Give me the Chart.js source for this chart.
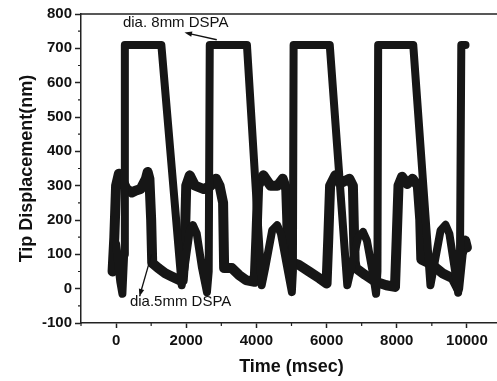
<!DOCTYPE html>
<html>
<head>
<meta charset="utf-8">
<script src="https://cdn.jsdelivr.net/npm/chart.js@4.4.1/dist/chart.umd.min.js"></script>
<style>
  html, body { margin: 0; padding: 0; background: #fff; overflow: hidden; }
  #wrap { width: 497px; height: 381px; overflow: hidden; }
</style>
</head>
<body>
<div id="wrap"><canvas id="chart" width="510" height="381"></canvas></div>
<script>
// dia. 8mm DSPA (circles)
const time8 = [0, 120, 180, 230, 250, 1290, 1870, 1950, 2100, 2190, 2300, 2450, 2590, 2640, 2670,
  3730, 4150, 4250, 4450, 4590, 4700, 4900, 5010, 5040, 5060,
  6090, 6590, 6700, 6900, 7040, 7150, 7330, 7410, 7450, 7470,
  8470, 8960, 9050, 9250, 9390, 9500, 9680, 9750, 9800, 9840, 9960];
const disp8 = [130, 20, -15, 100, 710, 710, 10, 60, 170, 185, 160, 60, -10, 50, 710,
  710, 10, 60, 170, 185, 160, 50, -10, 50, 710,
  710, 10, 60, 150, 165, 140, 40, -15, 50, 710,
  710, 10, 60, 170, 186, 160, 40, -12, 50, 710, 710];

// dia.5mm DSPA (triangles)
const time5 = [-100, -50, 0, 80, 150, 300, 450, 550, 700, 850, 900, 950, 1000, 1030, 1200, 1400, 1600, 1800, 1900, 1950,
  2000, 2100, 2250, 2500, 2700, 2850, 2950, 3050, 3080, 3300, 3500, 3700, 3950, 4000,
  4050, 4200, 4400, 4600, 4750, 4850, 4880, 4900, 5200, 5500, 5800, 6000, 6050,
  6100, 6250, 6450, 6650, 6750, 6800, 6830, 7100, 7400, 7700, 7950, 8000,
  8050, 8150, 8300, 8450, 8600, 8670, 8700, 9000, 9300, 9600, 9750, 9850, 9950, 10000];
const disp5 = [50, 150, 300, 335, 320, 290, 280, 285, 290, 320, 340, 320, 200, 75, 60, 45, 35, 25, 25, 100,
  300, 330, 300, 290, 300, 320, 300, 250, 60, 60, 40, 25, 20, 150,
  300, 330, 300, 300, 320, 290, 200, 80, 70, 50, 30, 15, 150,
  300, 330, 310, 320, 300, 80, 60, 40, 20, 10, 5, 150,
  300, 326, 305, 320, 300, 200, 85, 70, 45, 30, 0, 100, 140, 120];

const xTicks = [0, 2000, 4000, 6000, 8000, 10000];
const xMinor = [-1000, 1000, 3000, 5000, 7000, 9000];
const yTicks = [-100, 0, 100, 200, 300, 400, 500, 600, 700, 800];
const yMinor = [-50, 50, 150, 250, 350, 450, 550, 650, 750];

// callout labels with arrows (data coordinates)
const notes = [
  { text: 'dia. 8mm DSPA', at: [1700, 775], from: [2870, 725], to: [1950, 746] },
  { text: 'dia.5mm DSPA', at: [1840, -39], from: [1010, 99], to: [666, -23] }
];

const ink = '#161616';
const axisColor = '#222';
const fontFamily = '"Liberation Sans", Arial, Helvetica, sans-serif';

function toPoints(xs, ys) {
  return xs.map((v, i) => ({ x: v, y: ys[i] }));
}

const extras = {
  id: 'extras',
  afterDraw(chart) {
    const { ctx, chartArea, scales: { x, y } } = chart;
    ctx.save();
    ctx.strokeStyle = axisColor;
    ctx.lineWidth = 1.5;
    // top + right frame
    ctx.beginPath();
    ctx.moveTo(chartArea.left, chartArea.top);
    ctx.lineTo(chartArea.right, chartArea.top);
    ctx.lineTo(chartArea.right, chartArea.bottom);
    ctx.stroke();
    // minor ticks
    ctx.lineWidth = 1.2;
    ctx.beginPath();
    xMinor.forEach(v => {
      const px = x.getPixelForValue(v);
      ctx.moveTo(px, chartArea.bottom);
      ctx.lineTo(px, chartArea.bottom + 3);
    });
    yMinor.forEach(v => {
      const py = y.getPixelForValue(v);
      ctx.moveTo(chartArea.left, py);
      ctx.lineTo(chartArea.left - 3, py);
    });
    ctx.stroke();

    // callouts
    ctx.fillStyle = '#111';
    ctx.strokeStyle = '#111';
    ctx.font = '15px ' + fontFamily;
    ctx.textAlign = 'center';
    ctx.textBaseline = 'middle';
    notes.forEach(n => {
      ctx.fillText(n.text, x.getPixelForValue(n.at[0]), y.getPixelForValue(n.at[1]));
      const x1 = x.getPixelForValue(n.from[0]), y1 = y.getPixelForValue(n.from[1]);
      const x2 = x.getPixelForValue(n.to[0]), y2 = y.getPixelForValue(n.to[1]);
      const ang = Math.atan2(y2 - y1, x2 - x1);
      ctx.lineWidth = 1.3;
      ctx.beginPath();
      ctx.moveTo(x1, y1);
      ctx.lineTo(x2 - 5 * Math.cos(ang), y2 - 5 * Math.sin(ang));
      ctx.stroke();
      ctx.beginPath();
      ctx.moveTo(x2, y2);
      ctx.lineTo(x2 - 8 * Math.cos(ang - 0.35), y2 - 8 * Math.sin(ang - 0.35));
      ctx.lineTo(x2 - 8 * Math.cos(ang + 0.35), y2 - 8 * Math.sin(ang + 0.35));
      ctx.closePath();
      ctx.fill();
    });
    ctx.restore();
  }
};

const tickFont = { family: fontFamily, size: 15, weight: 'bold' };
const titleFont = { family: fontFamily, size: 18, weight: 'bold' };

new Chart(document.getElementById('chart').getContext('2d'), {
  type: 'scatter',
  data: {
    datasets: [
      {
        label: 'dia. 8mm DSPA',
        data: toPoints(time8, disp8),
        showLine: true,
        borderColor: ink,
        borderWidth: 8,
        borderJoinStyle: 'round',
        borderCapStyle: 'round',
        pointRadius: 0
      },
      {
        label: 'dia.5mm DSPA',
        data: toPoints(time5, disp5),
        showLine: true,
        borderColor: ink,
        borderWidth: 10,
        borderJoinStyle: 'round',
        borderCapStyle: 'round',
        pointRadius: 0
      }
    ]
  },
  options: {
    responsive: false,
    animation: false,
    layout: { padding: { top: 14, right: 8, left: 0, bottom: 0 } },
    plugins: {
      legend: { display: false },
      tooltip: { enabled: false }
    },
    scales: {
      x: {
        type: 'linear',
        min: -1000,
        max: 11000,
        afterBuildTicks: s => { s.ticks = xTicks.map(v => ({ value: v })); },
        afterFit: s => { s.height = 58; },
        grid: { drawOnChartArea: false, tickLength: 5, tickColor: axisColor, tickWidth: 1.5 },
        border: { color: axisColor, width: 1.5 },
        ticks: { font: tickFont, color: '#111', padding: 4, maxRotation: 0, autoSkip: false,
          callback: v => String(v) },
        title: { display: true, text: 'Time (msec)', font: titleFont, color: '#111', padding: { bottom: 3 } }
      },
      y: {
        min: -100,
        max: 800,
        afterBuildTicks: s => { s.ticks = yTicks.map(v => ({ value: v })); },
        afterFit: s => { s.width = 81; },
        grid: { drawOnChartArea: false, tickLength: 6, tickColor: axisColor, tickWidth: 1.5 },
        border: { color: axisColor, width: 1.5 },
        ticks: { font: tickFont, color: '#111', padding: 3, autoSkip: false,
          callback: v => String(v) },
        title: { display: true, text: 'Tip Displacement(nm)', font: titleFont, color: '#111', padding: { top: 16 } }
      }
    }
  },
  plugins: [extras]
});
</script>
</body>
</html>
